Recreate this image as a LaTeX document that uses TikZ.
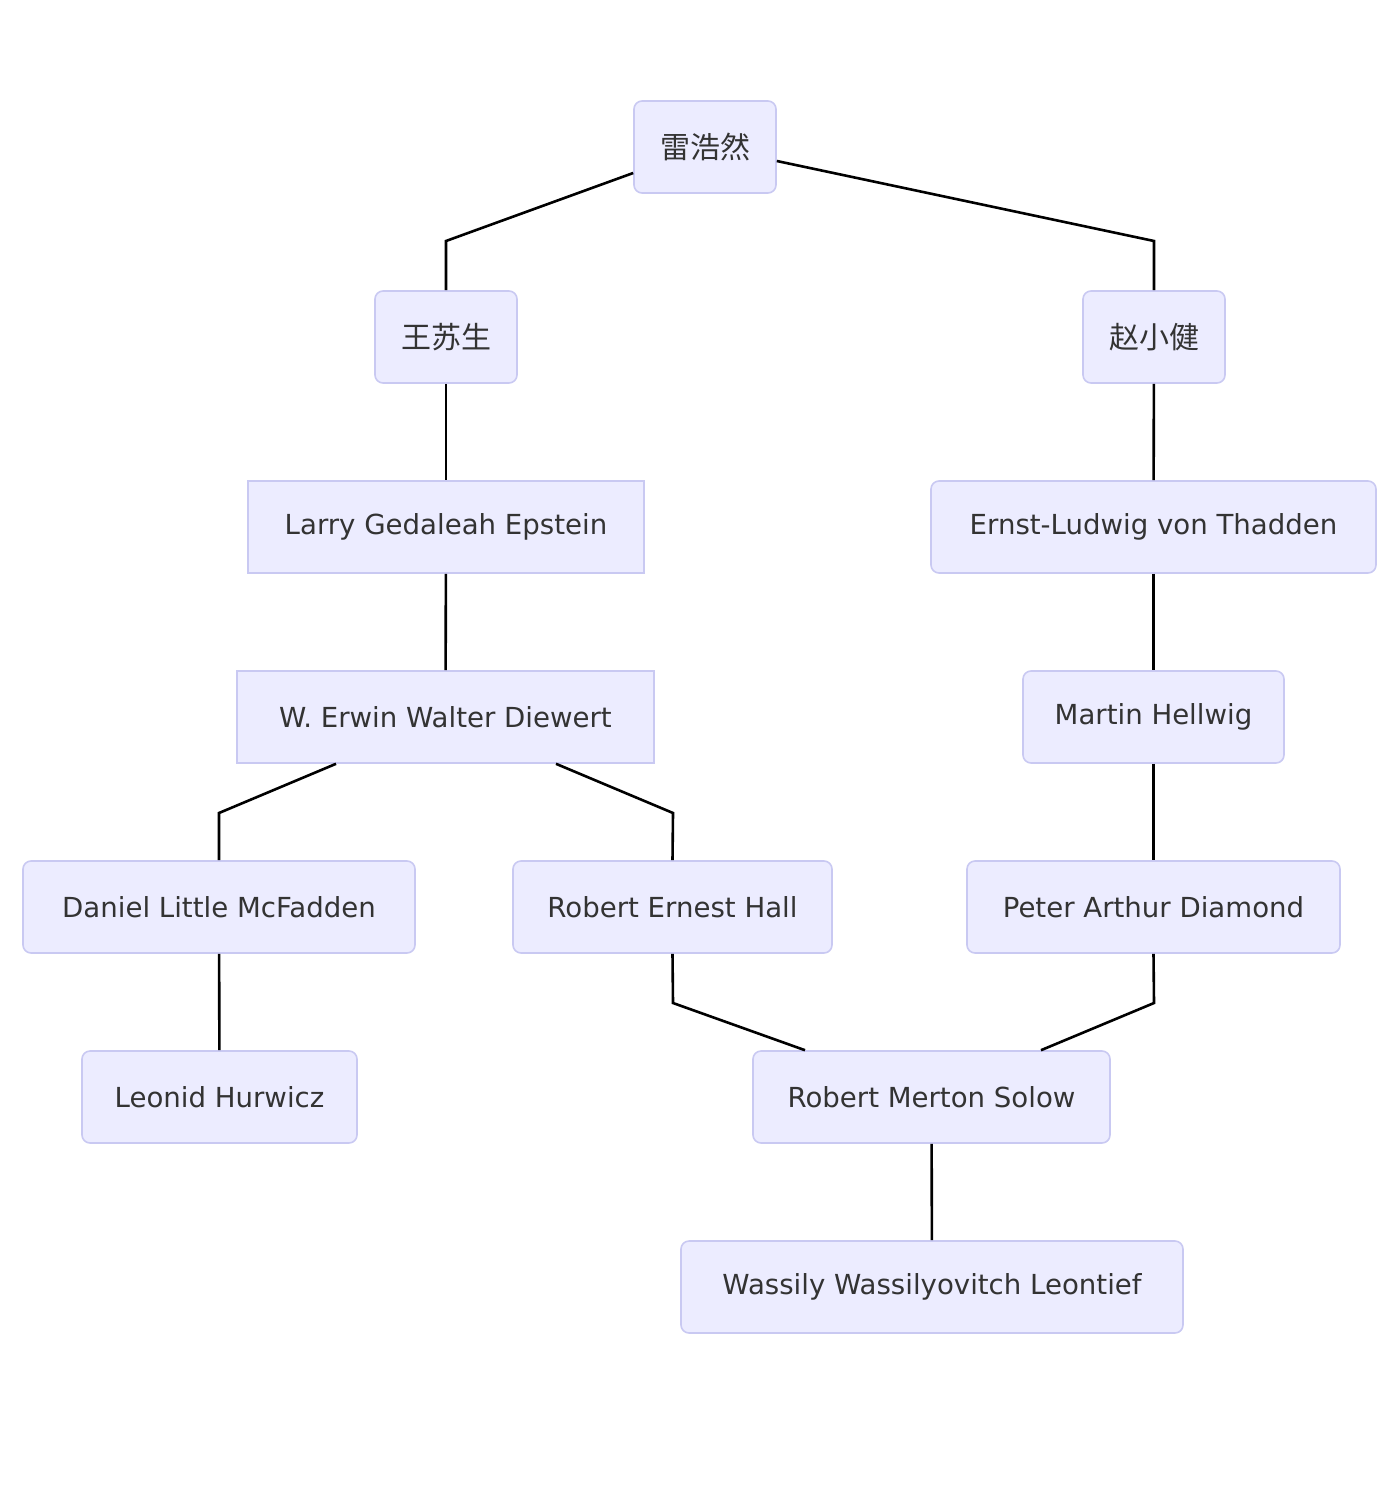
\documentclass[tikz,border=0pt]{standalone}
\usepackage{fontspec}
\setmainfont{DejaVu Sans}
\newfontfamily\cjk{Noto Sans CJK SC}
\definecolor{nodefill}{HTML}{ECECFF}
\definecolor{nodeline}{HTML}{C9C9F2}
\definecolor{txt}{HTML}{333333}
\begin{document}
\begin{tikzpicture}[x=1pt,y=-1pt,
  box/.style={draw=nodeline,fill=nodefill,line width=1.6pt,rounded corners=8pt,text=txt,font=\fontsize{27.6}{32}\selectfont,inner sep=0pt},
  sqbox/.style={box,rounded corners=0pt},
  cjkbox/.style={box,font=\fontsize{30}{34}\selectfont\cjk},
  edge/.style={line width=2.6pt,black}]
\useasboundingbox (0,0) rectangle (1382,1488);
\newcommand{\bx}[7]{\node[#1,minimum width=#5pt,minimum height=#6pt] (#2) at (#3,#4) {#7};}
\bx{cjkbox}{lei}{705}{147}{142}{92}{雷浩然}
\bx{cjkbox}{wang}{446}{337}{142}{92}{王苏生}
\bx{cjkbox}{zhao}{1154}{337}{142}{92}{赵小健}
\bx{sqbox}{larry}{446}{527}{396}{92}{Larry Gedaleah Epstein}
\bx{box}{ernst}{1153.5}{527}{445}{92}{Ernst-Ludwig von Thadden}
\bx{sqbox}{erwin}{445.5}{717}{417}{92}{W. Erwin Walter Diewert}
\bx{box}{martin}{1153.5}{717}{261}{92}{Martin Hellwig}
\bx{box}{daniel}{219}{907}{392}{92}{Daniel Little McFadden}
\bx{box}{hall}{672.5}{907}{319}{92}{Robert Ernest Hall}
\bx{box}{peter}{1153.5}{907}{373}{92}{Peter Arthur Diamond}
\bx{box}{leonid}{219.5}{1097}{275}{92}{Leonid Hurwicz}
\bx{box}{solow}{931.5}{1097}{357}{92}{Robert Merton Solow}
\bx{box}{wassily}{932}{1287}{502}{92}{Wassily Wassilyovitch Leontief}
\draw[edge] (lei.west |- 0,173) -- (446,241) -- (wang.north);
\draw[edge] (lei.east |- 0,161) -- (1154,241) -- (zhao.north);
\draw[edge] (wang) -- (larry);
\draw[edge] (zhao) -- (ernst);
\draw[edge] (larry) -- (erwin);
\draw[edge] (ernst) -- (martin);
\draw[edge] (erwin.south -| 336,0) -- (219,813) -- (daniel.north);
\draw[edge] (erwin.south -| 556,0) -- (673,813) -- (hall.north);
\draw[edge] (martin) -- (peter);
\draw[edge] (daniel) -- (leonid);
\draw[edge] (hall.south) -- (673,1003) -- (solow.north -| 805,0);
\draw[edge] (peter.south) -- (1154,1003) -- (solow.north -| 1041,0);
\draw[edge] (solow) -- (wassily);
\end{tikzpicture}
\end{document}
